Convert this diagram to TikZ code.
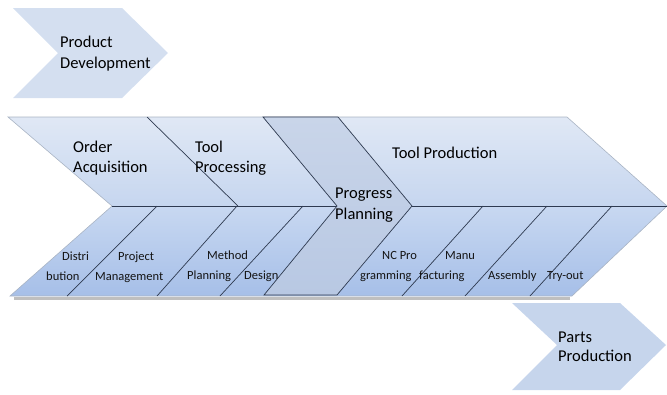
\documentclass[tikz,border=0pt]{standalone}
\usepackage{fontspec}
\setmainfont{Carlito}
\definecolor{divline}{HTML}{2E3A50}
\definecolor{rimline}{HTML}{A9B4C4}
\definecolor{upperTop}{HTML}{E0E8F5}
\definecolor{upperBot}{HTML}{C6D6EF}
\definecolor{lowerTop}{HTML}{C8D8F1}
\definecolor{lowerBot}{HTML}{A6BFE8}
\definecolor{phaseTop}{HTML}{C9D5E9}
\definecolor{phaseBot}{HTML}{B8C8E3}
\definecolor{sideFill}{HTML}{D4DFF0}
\definecolor{partsFill}{HTML}{C6D5EC}
\begin{document}
\begin{tikzpicture}[x=1pt,y=-1pt,
  bigtxt/.style={font=\fontsize{16.5}{20}\selectfont, inner sep=0pt, anchor=base west, text=black},
  smalltxt/.style={font=\fontsize{12.5}{15}\selectfont, inner sep=0pt, anchor=base west, text=black!92},
  divider/.style={draw=divline, line width=0.7pt},
  rim/.style={draw=rimline, line width=0.6pt}]
\useasboundingbox (0,0) rectangle (667,394);

% side chevron: product development
\fill[sideFill] (13,8) -- (122,8) -- (168,53) -- (122,98) -- (13,98) -- (58,53) -- cycle;
\node[bigtxt] (pd1) at (60,47) {Product};
\node[bigtxt] (pd2) at (60,68) {Development};

% soft shadow under the main arrow
\draw[black!25, line width=2.5pt] (14,298.5) -- (570,298.5);

% main arrow: upper and lower halves
\shade[top color=upperTop, bottom color=upperBot]
  (8,117) -- (567,117) -- (667,206) -- (112,206) -- cycle;
\shade[top color=lowerTop, bottom color=lowerBot]
  (112,206) -- (667,206) -- (572,296) -- (10,296) -- cycle;
\draw[rim] (8,117) -- (567,117) -- (667,206) -- (572,296) -- (10,296) -- (112,206) -- cycle;

% middle line
\coordinate (m0) at (112,206);
\coordinate (m1) at (337,206);
\coordinate (m2) at (412,206);
\coordinate (m3) at (667,206);
\draw[divider] (m0) -- (m1);
\draw[divider] (m2) -- (m3);

% upper divider
\coordinate (u1a) at (147,117); \coordinate (u1b) at (238,206);
\draw[divider] (u1a) -- (u1b);

% lower dividers
\coordinate (l1a) at (157,206); \coordinate (l1b) at (67,296);
\coordinate (l2a) at (237,206); \coordinate (l2b) at (157,296);
\coordinate (l3a) at (303,206); \coordinate (l3b) at (220,296);
\coordinate (l4a) at (483,206); \coordinate (l4b) at (402,296);
\coordinate (l5a) at (547,206); \coordinate (l5b) at (465,296);
\coordinate (l6a) at (612,206); \coordinate (l6b) at (530,296);
\foreach \i in {1,...,6} \draw[divider] (l\i a) -- (l\i b);

% progress planning band
\shade[top color=phaseTop, bottom color=phaseBot]
  (263,117) -- (338,117) -- (412,206) -- (337,295) -- (264,295) -- (337,206) -- cycle;
\draw[divider]
  (263,117) -- (338,117) -- (412,206) -- (337,295) -- (264,295) -- (337,206) -- cycle;

% main labels
\node[bigtxt] (oa1) at (73,152) {Order};
\node[bigtxt] (oa2) at (73,172) {Acquisition};
\node[bigtxt] (tp1) at (195,152) {Tool};
\node[bigtxt] (tp2) at (195,172) {Processing};
\node[bigtxt] (pp1) at (335,198) {Progress};
\node[bigtxt] (pp2) at (335,219) {Planning};
\node[bigtxt] (tpr) at (392,158) {Tool Production};

% task labels
\node[smalltxt] (t1a) at (62,260) {Distri};
\node[smalltxt] (t1b) at (46,280) {bution};
\node[smalltxt] (t2a) at (118,260) {Project};
\node[smalltxt] (t2b) at (95,280) {Management};
\node[smalltxt] (t3a) at (207,259) {Method};
\node[smalltxt] (t3b) at (187,279) {Planning};
\node[smalltxt] (t4) at (244,279) {Design};
\node[smalltxt] (t5a) at (382,259) {NC Pro};
\node[smalltxt] (t5b) at (360,279) {gramming};
\node[smalltxt] (t6a) at (445,259) {Manu};
\node[smalltxt] (t6b) at (419,279) {facturing};
\node[smalltxt] (t7) at (488,279) {Assembly};
\node[smalltxt] (t8) at (547,279) {Try-out};

% side chevron: parts production
\fill[partsFill] (512,303) -- (620,303) -- (666,345) -- (620,390) -- (512,390) -- (557,345) -- cycle;
\node[bigtxt] (pa1) at (558,342) {Parts};
\node[bigtxt] (pa2) at (558,361) {Production};
\end{tikzpicture}
\end{document}
